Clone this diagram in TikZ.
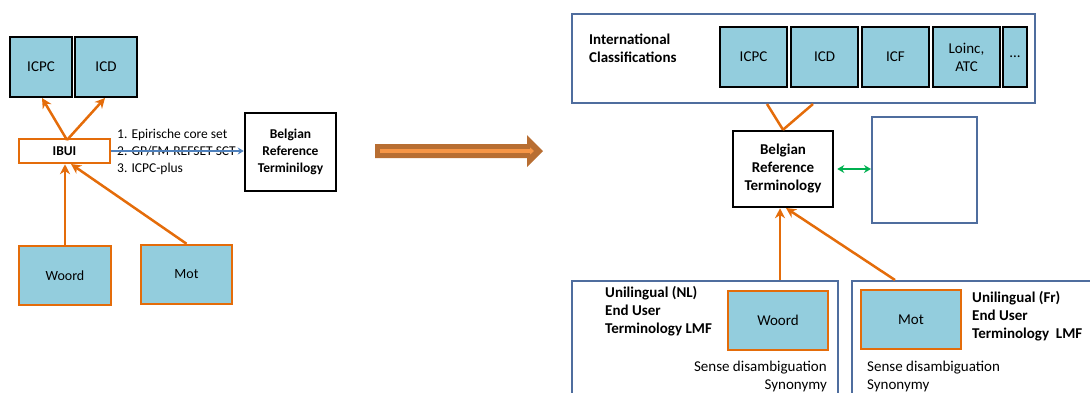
\documentclass[tikz,border=0pt]{standalone}
\usepackage{fontspec}
\setmainfont{Carlito}
\usetikzlibrary{arrows.meta}

\definecolor{clsfill}{RGB}{147,205,221}
\definecolor{accorange}{RGB}{228,108,10}
\definecolor{slateblue}{RGB}{79,109,158}
\definecolor{linkblue}{RGB}{79,129,189}
\definecolor{linkgreen}{RGB}{0,176,80}
\definecolor{bigdark}{RGB}{184,110,50}
\definecolor{biglight}{RGB}{247,150,70}

\newcommand{\lfont}{\fontsize{13.5}{17}\selectfont}
\newcommand{\rfont}{\fontsize{15}{18}\selectfont}

\tikzset{
  cls/.style={draw=black,line width=2.5pt,fill=clsfill,inner sep=0pt,minimum width=62pt,minimum height=60pt},
  term/.style={draw=accorange,line width=2.5pt,fill=clsfill,inner sep=0pt,minimum width=92pt,minimum height=59pt},
  brt/.style={draw=black,line width=2.5pt,fill=white,inner sep=0pt,align=center,font=\rfont\bfseries},
  frame/.style={draw=slateblue,line width=2pt,inner sep=0pt},
  title/.style={align=left,font=\rfont\bfseries},
  up/.style={draw=accorange,line width=2.5pt,-{Stealth[length=10pt,width=10pt]}},
  feed/.style={draw=accorange,line width=2.5pt}
}
\tikzstyle{every node}=[font=\rfont]

\begin{document}
\begin{tikzpicture}[x=1pt,y=-1pt]
    \useasboundingbox (0,0) rectangle (1090,392);
    % left: current situation
    \node[cls] (ICPC) at (41,67) {ICPC};
    \node[cls] (ICD) at (106,67) {ICD};
    \node[draw=accorange,line width=2.5pt,fill=white,inner sep=0pt,minimum width=91pt,minimum height=24pt,font=\lfont\bfseries] (IBUI) at (64.5,151) {IBUI};
    \node[brt,minimum width=91pt,minimum height=78pt,font=\lfont\bfseries] (BRT) at (290.5,152) {Belgian\\Reference\\Terminilogy};
    \node[term,font=\fontsize{14}{17}\selectfont] (Woord) at (65,275.5) {Woord};
    \node[term,minimum width=91pt,font=\fontsize{14}{17}\selectfont] (Mot) at (186.5,274.5) {Mot};
    \node[anchor=west,align=left,inner sep=0pt,font=\lfont] (sets) at (117,152) {1. Epirische core set\\2. GP/FM-REFSET-SCT\\3. ICPC-plus};
    \coordinate (IBUI') at (67,140);
    \coordinate (ICPC') at (42,98);
    \coordinate (ICD') at (105,98);
    \coordinate (IBUI'') at (71,164);
    \draw [up] (IBUI') -- (ICPC');
    \draw [up] (IBUI') -- (ICD');
    \draw [up] (Woord.north) -- (Woord.north |- IBUI.south);
    \draw [up] (Mot.north) -- (IBUI'');
    \draw [draw=linkblue,line width=1.2pt,-{Stealth[length=6pt,width=7pt]}] (IBUI.east) -- (IBUI.east -| BRT.west);

    % big arrow
    \fill [bigdark] (375,144) -- (527,144) -- (527,135) -- (543,151) -- (527,167) -- (527,158) -- (375,158) -- cycle;
    \draw [biglight,line width=4pt,-{Triangle[length=4pt,width=7pt]}] (380,151) -- (534,151);

    % right: target situation
    \node[frame,minimum width=463pt,minimum height=89pt] (IC) at (803.5,58.5) {};
    \node[title,anchor=west,inner sep=0pt] (ICtitle) at (589,48) {International\\Classifications};
    \node[cls,minimum width=67pt] (ICPC2) at (753.5,57) {ICPC};
    \node[cls,minimum width=67pt] (ICD2) at (824.5,57) {ICD};
    \node[cls,minimum width=67pt] (ICF) at (895.5,57) {ICF};
    \node[cls,minimum width=67pt,align=center] (Loinc) at (966.5,57) {Loinc,\\ATC};
    \node[cls,minimum width=24pt] (More) at (1015,57) {...};
    \node[brt,minimum width=100pt,minimum height=76pt] (BRT2) at (783,169) {Belgian\\Reference\\Terminology};
    \node[frame,minimum width=105pt,minimum height=106pt] (Ext) at (924.5,170) {};
    \node[frame,minimum width=266pt,minimum height=125pt] (NL) at (705,343.5) {};
    \node[frame,minimum width=258pt,minimum height=125pt] (FR) at (981,343.5) {};
    \node[term,minimum width=100pt] (Woord2) at (778,320.5) {Woord};
    \node[term,minimum width=100pt] (Mot2) at (911,319.5) {Mot};
    \node[title,anchor=west,inner sep=0pt] (NLtitle) at (605,311) {Unilingual (NL)\\End User\\Terminology LMF};
    \node[anchor=east,align=right,inner sep=0pt] (NLsense) at (827,376) {Sense disambiguation\\Synonymy};
    \node[title,anchor=west,inner sep=0pt] (FRtitle) at (972,316) {Unilingual (Fr)\\End User\\Terminology\ \ LMF};
    \node[anchor=west,align=left,inner sep=0pt] (FRsense) at (867,376) {Sense disambiguation\\Synonymy};
    \coordinate (IC') at (767,104);
    \coordinate (IC'') at (813,104);
    \coordinate (NL') at (780,280);
    \coordinate (FR') at (895,280);
    \coordinate (BRT2') at (786,208);
    \draw [feed] (IC') -- (BRT2.north);
    \draw [feed] (IC'') -- (BRT2.north);
    \draw [up] (NL') -- (NL' |- BRT2.south);
    \draw [up] (FR') -- (BRT2');
    \draw [draw=linkgreen,line width=2pt,{Stealth[length=7pt,width=8pt]}-{Stealth[length=7pt,width=8pt]}] ([xshift=3pt]BRT2.east) -- (BRT2.east -| Ext.west);
\end{tikzpicture}
\end{document}
